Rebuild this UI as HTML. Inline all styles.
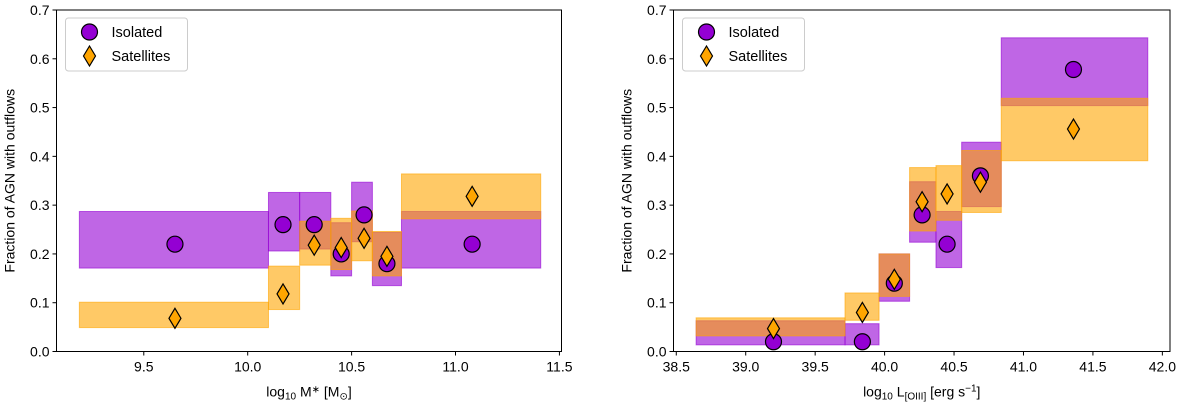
<!DOCTYPE html>
<html><head><meta charset="utf-8"><style>
html,body{margin:0;padding:0;background:#fff;}
svg{display:block;font-family:"Liberation Sans",sans-serif;}
</style></head><body>
<svg id="chart" width="1200" height="404" viewBox="0 0 1200 404" xmlns="http://www.w3.org/2000/svg"></svg>
<script>
// ---- Left panel data (stellar mass) ----
const massIsoBinLo = [9.19, 10.10, 10.25, 10.40, 10.50, 10.60, 10.74];
const massIsoBinHi = [10.10, 10.25, 10.40, 10.50, 10.60, 10.74, 11.41];
const massIsoLow = [0.171, 0.206, 0.21, 0.155, 0.225, 0.135, 0.171];
const massIsoHigh = [0.287, 0.326, 0.326, 0.264, 0.347, 0.244, 0.287];
const massIsoX = [9.65, 10.17, 10.32, 10.45, 10.56, 10.67, 11.08];
const massIsoVal = [0.22, 0.26, 0.26, 0.20, 0.28, 0.18, 0.22];
const massSatLow = [0.049, 0.086, 0.177, 0.168, 0.186, 0.155, 0.272];
const massSatHigh = [0.101, 0.175, 0.267, 0.273, 0.288, 0.246, 0.364];
const massSatVal = [0.068, 0.118, 0.218, 0.213, 0.232, 0.195, 0.318];
const massTicks = [9.5, 10.0, 10.5, 11.0, 11.5];
// ---- Right panel data (OIII luminosity) ----
const lumBinLo = [38.643, 39.715, 39.96, 40.18, 40.37, 40.555, 40.84];
const lumBinHi = [39.715, 39.96, 40.18, 40.37, 40.555, 40.84, 41.895];
const lumIsoLow = [0.0136, 0.0136, 0.103, 0.224, 0.172, 0.297, 0.504];
const lumIsoHigh = [0.063, 0.057, 0.20, 0.348, 0.287, 0.429, 0.643];
const lumX = [39.2, 39.84, 40.07, 40.27, 40.45, 40.69, 41.36];
const lumIsoVal = [0.02, 0.02, 0.14, 0.28, 0.22, 0.36, 0.578];
const lumSatLow = [0.032, 0.064, 0.113, 0.247, 0.269, 0.285, 0.391];
const lumSatHigh = [0.069, 0.12, 0.2, 0.377, 0.381, 0.412, 0.519];
const lumSatVal = [0.047, 0.08, 0.148, 0.307, 0.323, 0.347, 0.456];
const lumTicks = [38.5, 39.0, 39.5, 40.0, 40.5, 41.0, 41.5, 42.0];
const yTicks = [0.0, 0.1, 0.2, 0.3, 0.4, 0.5, 0.6, 0.7];

const NS = "http://www.w3.org/2000/svg";
const svg = document.getElementById('chart');
function mk(tag, attrs, parent) {
  const e = document.createElementNS(NS, tag);
  for (const k in attrs) e.setAttribute(k, attrs[k]);
  (parent || svg).appendChild(e);
  return e;
}

function panel(p) {
  const g = mk('g', {});
  
  
  const X = v => p.x0 + (v - p.xmin) / (p.xmax - p.xmin) * (p.x1 - p.x0);
  const Y = v => p.y1 - (v - 0) / 0.7 * (p.y1 - p.y0);
  for (let i = 0; i < p.lo.length; i++) {
    const r = mk('rect', {x: X(p.lo[i]), y: Y(p.isoHigh[i]), width: X(p.hi[i]) - X(p.lo[i]), height: Y(p.isoLow[i]) - Y(p.isoHigh[i]), fill: 'darkviolet', 'fill-opacity': 0.6, stroke: 'darkviolet', 'stroke-opacity': 0.6, 'stroke-width': 1}, g);
    
    
  }
  for (let i = 0; i < p.lo.length; i++) {
    const r = mk('rect', {x: X(p.lo[i]), y: Y(p.satHigh[i]), width: X(p.hi[i]) - X(p.lo[i]), height: Y(p.satLow[i]) - Y(p.satHigh[i]), fill: 'orange', 'fill-opacity': 0.6, stroke: 'orange', 'stroke-opacity': 0.6, 'stroke-width': 1}, g);
    
    
  }
  for (let i = 0; i < p.px.length; i++) {
    const c = mk('circle', {cx: X(p.px[i]), cy: Y(p.isoVal[i]), r: 8, fill: 'darkviolet', stroke: '#000', 'stroke-width': 1.2}, g);
    
    
  }
  for (let i = 0; i < p.px.length; i++) {
    const cx = X(p.px[i]), cy = Y(p.satVal[i]);
    const d = mk('polygon', {points: `${cx},${cy-10} ${cx+6},${cy} ${cx},${cy+10} ${cx-6},${cy}`, fill: 'orange', stroke: '#000', 'stroke-width': 1.2}, g);
    
    
  }
  const f = mk('rect', {x: p.x0, y: p.y0, width: p.x1 - p.x0, height: p.y1 - p.y0, fill: 'none', stroke: '#000', 'stroke-width': 1}, g);
  
  
  yTicks.forEach(t => {
    const y = Y(t);
    mk('line', {x1: p.x0 - 4, x2: p.x0, y1: y, y2: y, stroke: '#000'}, g);
    const tx = mk('text', {x: p.x0 - 7, y: y + 5, 'font-size': 14, 'text-anchor': 'end', fill: '#000'}, g);
    tx.textContent = t.toFixed(1);
    
    
  });
  p.xticks.forEach(t => {
    const x = X(t);
    mk('line', {x1: x, x2: x, y1: p.y1, y2: p.y1 + 4, stroke: '#000'}, g);
    const tx = mk('text', {x: x, y: p.y1 + 20, 'font-size': 14, 'text-anchor': 'middle', fill: '#000'}, g);
    tx.textContent = t.toFixed(1);
    
    
  });
  const yt = mk('text', {x: 0, y: 0, 'font-size': 14, 'text-anchor': 'middle', fill: '#000', transform: `translate(${p.x0 - 42},${(p.y0 + p.y1) / 2}) rotate(-90)`}, g);
  yt.textContent = 'Fraction of AGN with outflows';
  
  
  const xt = mk('text', {x: (p.x0 + p.x1) / 2, y: p.y1 + 45, 'font-size': 14, 'text-anchor': 'middle', fill: '#000'}, g);
  xt.innerHTML = p.xlabel;
  
  
  const lg = mk('g', {}, g);
  
  
  const lx = p.x0 + 9;
  mk('rect', {x: lx, y: 18, width: 122, height: 53, rx: 3, fill: '#fff', 'fill-opacity': 0.8, stroke: '#ccc'}, lg);
  const c = mk('circle', {cx: lx + 24, cy: 32, r: 8, fill: 'darkviolet', stroke: '#000', 'stroke-width': 1.2}, lg);
  
  
  const dcx = lx + 24, dcy = 56;
  const d = mk('polygon', {points: `${dcx},${dcy-10} ${dcx+6},${dcy} ${dcx},${dcy+10} ${dcx-6},${dcy}`, fill: 'orange', stroke: '#000', 'stroke-width': 1.2}, lg);
  
  
  const t1 = mk('text', {x: lx + 46, y: 37, 'font-size': 14.5, fill: '#000'}, lg);
  t1.textContent = 'Isolated';
  
  
  const t2 = mk('text', {x: lx + 46, y: 61, 'font-size': 14.5, fill: '#000'}, lg);
  t2.textContent = 'Satellites';
  
  
}

panel({name: 'mass-panel', x0: 56.5, x1: 561.5, y0: 10, y1: 351.5, xmin: 9.08, xmax: 11.51,
  lo: massIsoBinLo, hi: massIsoBinHi, isoLow: massIsoLow, isoHigh: massIsoHigh, px: massIsoX, isoVal: massIsoVal,
  satLow: massSatLow, satHigh: massSatHigh, satVal: massSatVal, xticks: massTicks,
  xlabel: 'log<tspan font-size="10" dy="3">10</tspan><tspan dy="-3"> M</tspan><tspan font-size="10" dy="-4">∗</tspan><tspan dy="4"> [M</tspan><tspan font-size="10" dy="3">⊙</tspan><tspan dy="-3">]</tspan>'});
panel({name: 'luminosity-panel', x0: 673.5, x1: 1170, y0: 10, y1: 351.5, xmin: 38.48, xmax: 42.055,
  lo: lumBinLo, hi: lumBinHi, isoLow: lumIsoLow, isoHigh: lumIsoHigh, px: lumX, isoVal: lumIsoVal,
  satLow: lumSatLow, satHigh: lumSatHigh, satVal: lumSatVal, xticks: lumTicks,
  xlabel: 'log<tspan font-size="10" dy="3">10</tspan><tspan dy="-3"> L</tspan><tspan font-size="10" dy="3">[OIII]</tspan><tspan dy="-3"> [erg s</tspan><tspan font-size="10" dy="-5">−1</tspan><tspan dy="5">]</tspan>'});
</script>
</body></html>
